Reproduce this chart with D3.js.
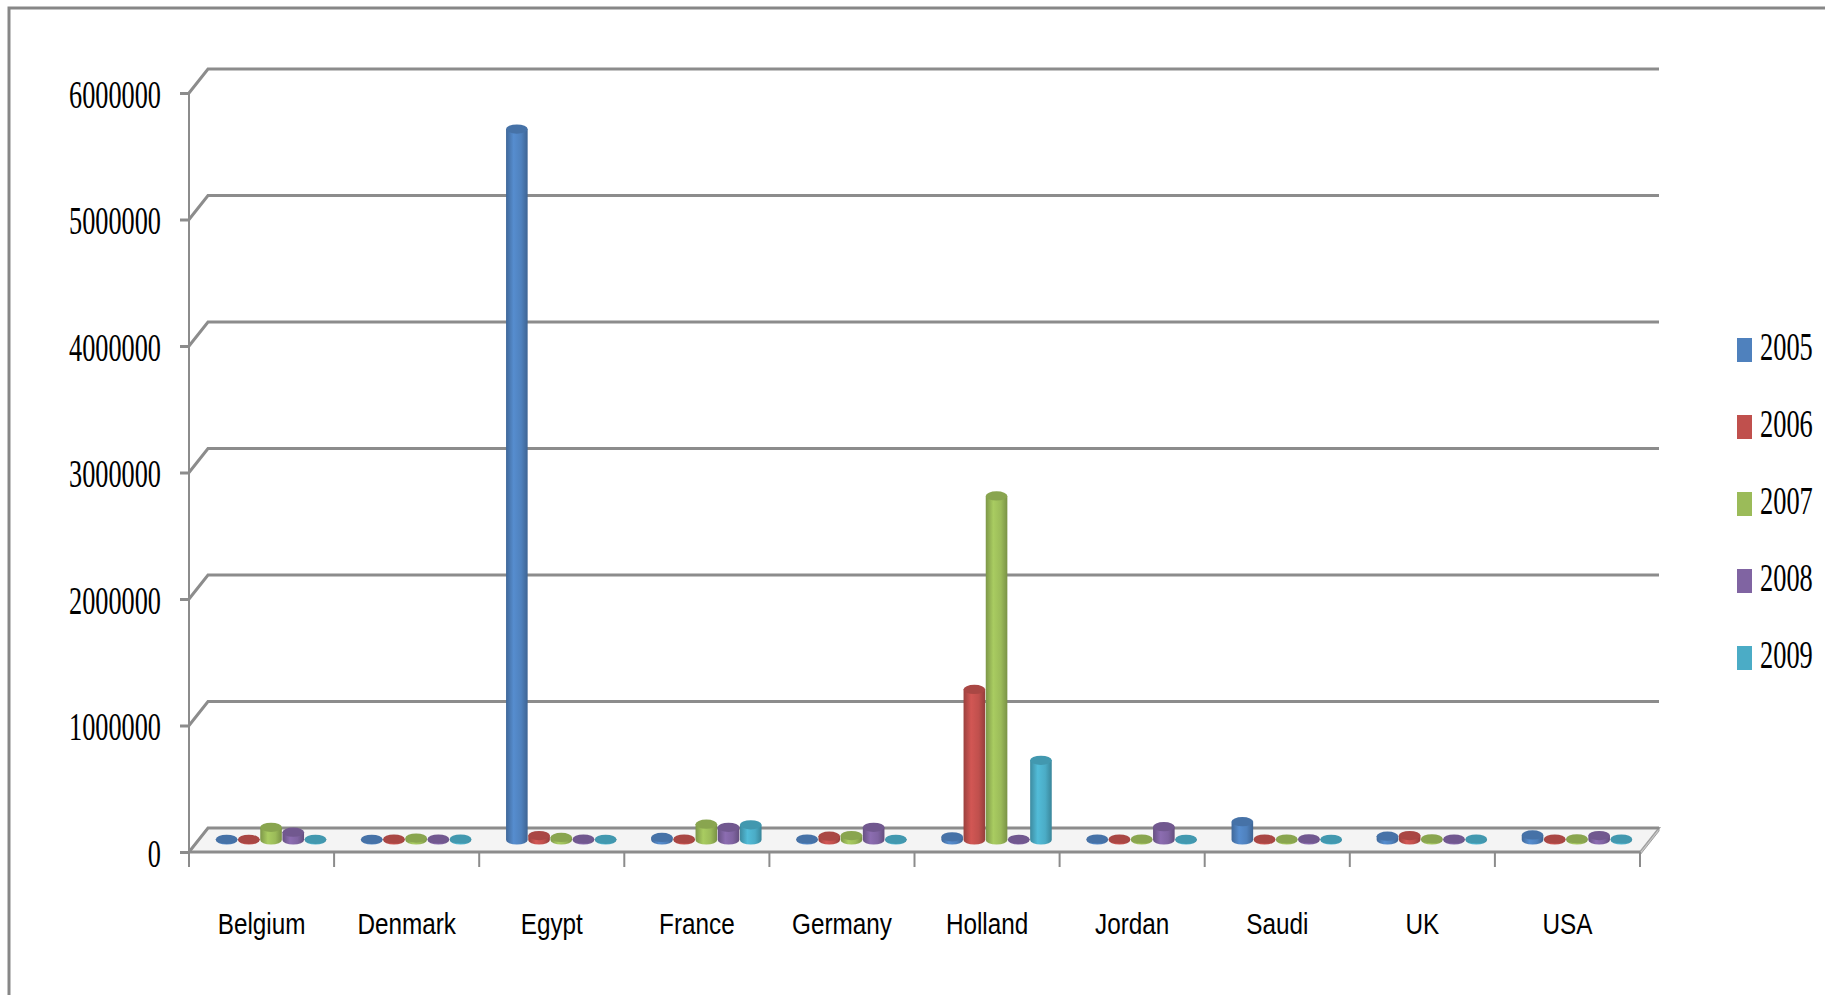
<!DOCTYPE html>
<html>
<head>
<meta charset="utf-8">
<script src="https://cdn.jsdelivr.net/npm/d3@7"></script>
<style>
  html, body { margin: 0; padding: 0; background: #fff; }
  svg { display: block; }
</style>
</head>
<body>
<svg id="chart" width="1825" height="995"></svg>
<script>
// ---- data ----
const countries = ["Belgium", "Denmark", "Egypt", "France", "Germany", "Holland", "Jordan", "Saudi", "UK", "USA"];
const years = ["2005", "2006", "2007", "2008", "2009"];
const v2005 = [5000, 5000, 5620000, 20000, 8000, 25000, 8000, 145000, 30000, 40000];
const v2006 = [5000, 8000, 35000, 8000, 30000, 1190000, 8000, 8000, 35000, 8000];
const v2007 = [100000, 15000, 20000, 125000, 35000, 2720000, 8000, 8000, 10000, 10000];
const v2008 = [62000, 8000, 8000, 100000, 100000, 5000, 105000, 10000, 8000, 35000];
const v2009 = [5000, 8000, 5000, 120000, 5000, 630000, 5000, 5000, 8000, 8000];
const yTicks = [0, 1000000, 2000000, 3000000, 4000000, 5000000, 6000000];
const colors = ["#4F81BD", "#C0504D", "#9BBB59", "#8064A2", "#4BACC6"];

const seriesValues = [v2005, v2006, v2007, v2008, v2009];

// ---- layout ----
const svg = d3.select("#chart");
const X0 = 189, X1 = 1640;
const DX = 19, DY = -24;         // depth offset of back wall
const gridColor = "#8c8c8c";

const x = d3.scaleBand().domain(countries).range([X0, X1]).paddingInner(0).paddingOuter(0);
const y = d3.scaleLinear().domain([0, 6000000]).range([852, 93]);
const xs = d3.scaleBand().domain(years).range([-55.5, 55.5]).paddingInner(0).paddingOuter(0);

// outer border
svg.append("rect").attr("x", 9).attr("y", 8).attr("width", 1900).attr("height", 1100)
  .attr("fill", "none").attr("stroke", "#878787").attr("stroke-width", 3);

// gradients
const defs = svg.append("defs");
colors.forEach((c, i) => {
  const g = defs.append("linearGradient").attr("id", "cyl" + i)
    .attr("x1", "0%").attr("x2", "100%").attr("y1", "0%").attr("y2", "0%");
  const base = d3.color(c);
  g.append("stop").attr("offset", "0%").attr("stop-color", base.darker(0.6));
  g.append("stop").attr("offset", "35%").attr("stop-color", base.brighter(0.25));
  g.append("stop").attr("offset", "70%").attr("stop-color", base);
  g.append("stop").attr("offset", "100%").attr("stop-color", base.darker(0.7));
});

// floor
const yb0 = y(0);
svg.append("path")
  .attr("d", `M${X0},${yb0} L${X1},${yb0} L${X1 + DX},${yb0 + DY} L${X0 + DX},${yb0 + DY} Z`)
  .attr("fill", "#f4f4f4").attr("stroke", "#a0a0a0").attr("stroke-width", 2);
svg.append("path")
  .attr("d", `M${X1},${yb0} L${X1 + DX},${yb0 + DY} L${X1 + DX},${yb0 + DY + 3} L${X1},${yb0 + 3} Z`)
  .attr("fill", "#c8c8c8").attr("stroke", "#a0a0a0").attr("stroke-width", 1);

// grid lines (back wall + left diagonal)
const grid = svg.append("g");
yTicks.forEach(t => {
  const yy = y(t);
  grid.append("path")
    .attr("d", `M${X0},${yy} L${X0 + DX},${yy + DY} L${X1 + DX},${yy + DY}`)
    .attr("fill", "none").attr("stroke", gridColor).attr("stroke-width", 3);
});

// y axis
const yAxis = svg.append("g").attr("transform", `translate(${X0},0)`)
  .call(d3.axisLeft(y).tickValues(yTicks).tickFormat(d3.format("d")).tickSize(9).tickSizeOuter(0));
yAxis.select(".domain").attr("stroke", gridColor).attr("stroke-width", 2)
  .attr("d", `M0,${y(6000000)}V${yb0 + 15}`);
yAxis.selectAll(".tick line").attr("stroke", gridColor).attr("stroke-width", 3);
yAxis.selectAll(".tick text")
  .attr("x", null).attr("dy", null)
  .attr("text-anchor", "end")
  .attr("transform", "translate(-28,14) scale(0.657,1)")
  .attr("font-family", "'Liberation Serif', 'Times New Roman', serif")
  .attr("font-size", 40).attr("fill", "#000");

// x axis line and boundary ticks
svg.append("line").attr("x1", X0).attr("x2", X1).attr("y1", yb0).attr("y2", yb0)
  .attr("stroke", gridColor).attr("stroke-width", 3);
const bounds = countries.map(c => x(c)).concat([X1]);
svg.append("g").selectAll("line").data(bounds).join("line")
  .attr("x1", d => d).attr("x2", d => d).attr("y1", yb0).attr("y2", yb0 + 15)
  .attr("stroke", gridColor).attr("stroke-width", 2);

// category labels
const xAxis = svg.append("g").attr("transform", `translate(0,${yb0})`)
  .call(d3.axisBottom(x).tickSize(0).tickPadding(0));
xAxis.select(".domain").remove();
xAxis.selectAll(".tick text")
  .attr("y", null).attr("dy", null)
  .attr("text-anchor", "middle")
  .attr("transform", "translate(0,82) scale(0.81,1)")
  .attr("font-family", "'Liberation Sans', Arial, sans-serif")
  .attr("font-size", 30).attr("fill", "#000");

// cylinders
const RX = 10.8, RY = 4.6;
const cylData = [];
countries.forEach((c, ci) => {
  years.forEach((yr, si) => {
    cylData.push({ c, si, v: seriesValues[si][ci] });
  });
});
const cg = svg.append("g");
cylData.forEach(d => {
  const cx = x(d.c) + x.bandwidth() / 2 + xs(years[d.si]) + xs.bandwidth() / 2 + DX / 2;
  const yb = y(0) + DY / 2;
  const yt = y(d.v) + DY / 2;
  const g = cg.append("g");
  g.append("path")
    .attr("d", `M${cx - RX},${yt} L${cx - RX},${yb} A${RX},${RY} 0 0 0 ${cx + RX},${yb} L${cx + RX},${yt} Z`)
    .attr("fill", `url(#cyl${d.si})`);
  g.append("ellipse")
    .attr("cx", cx).attr("cy", yt).attr("rx", RX).attr("ry", RY)
    .attr("fill", d3.color(colors[d.si]).darker(0.35));
});

// legend
const legend = svg.append("g");
years.forEach((yr, i) => {
  const cy = 350 + i * 77;
  legend.append("rect").attr("x", 1737).attr("y", cy - 12).attr("width", 15).attr("height", 24)
    .attr("fill", colors[i]);
  legend.append("text")
    .attr("transform", `translate(1760,${cy + 10}) scale(0.66,1)`)
    .attr("font-family", "'Liberation Serif', 'Times New Roman', serif")
    .attr("font-size", 40).attr("fill", "#000")
    .text(yr);
});
</script>
</body>
</html>
